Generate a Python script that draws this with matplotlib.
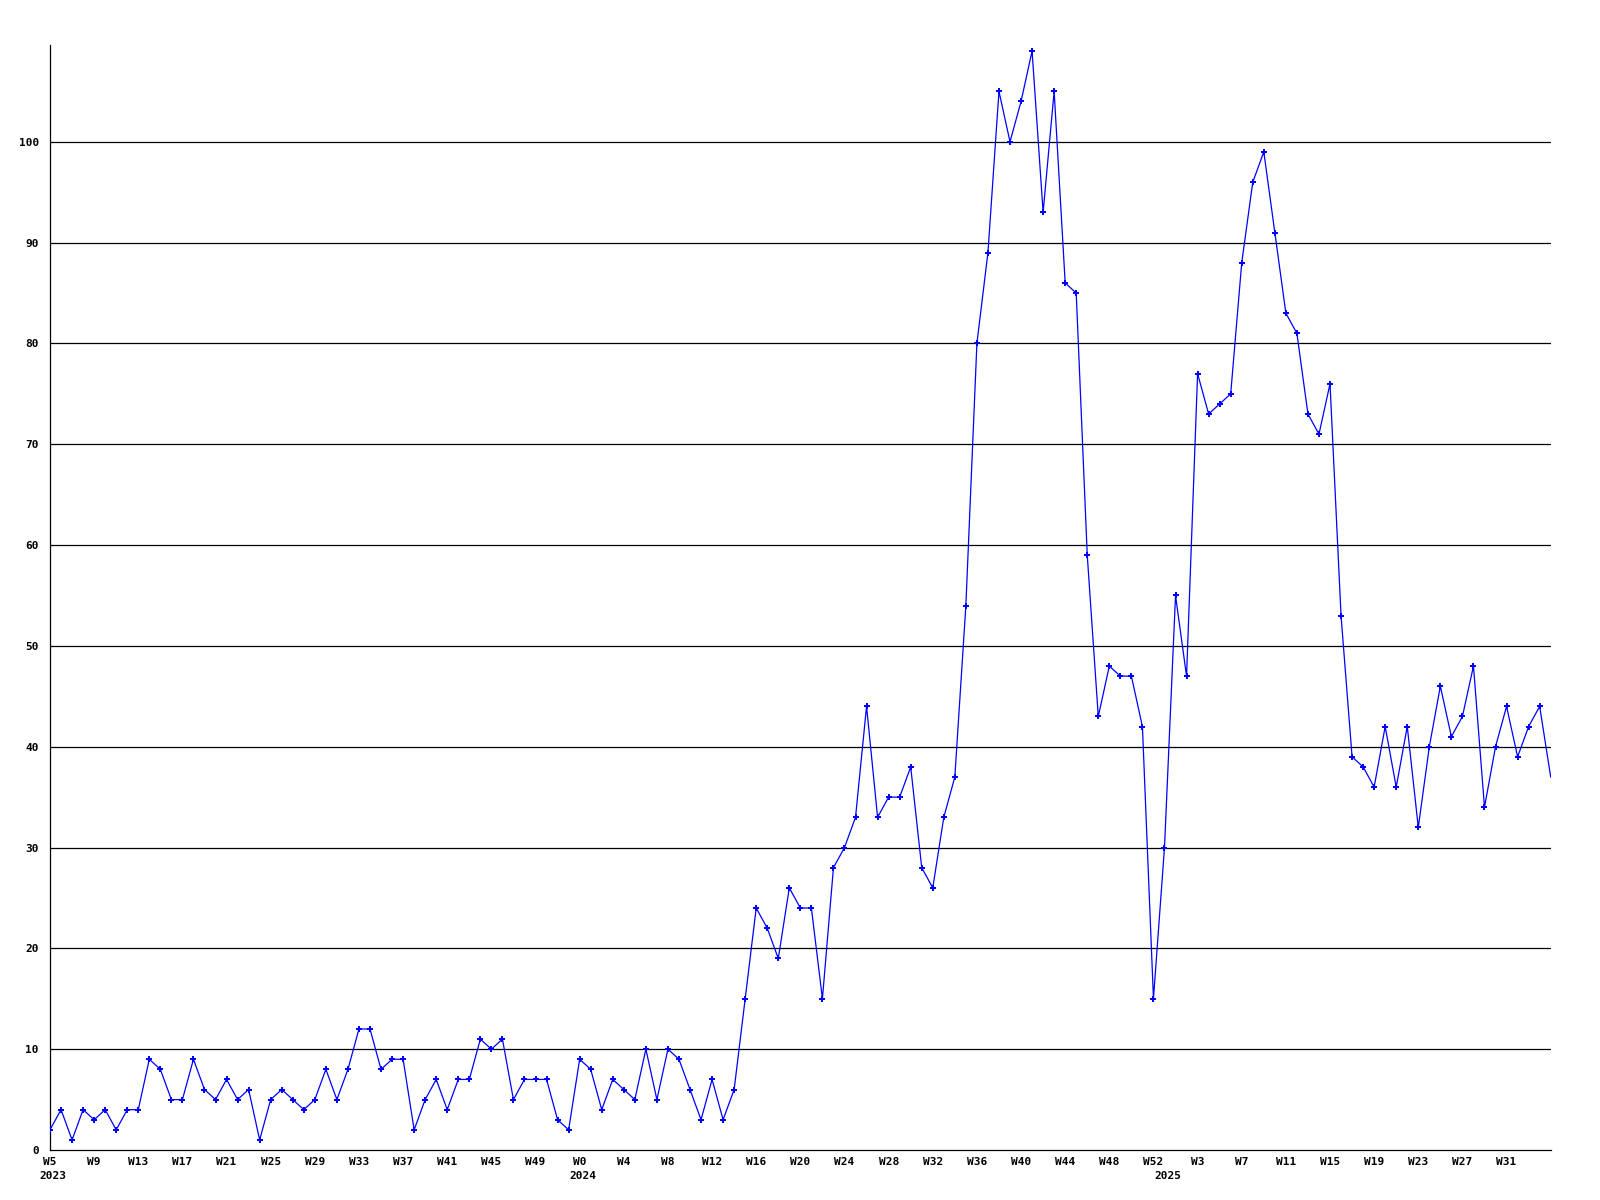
import numpy as np
import matplotlib
matplotlib.use('Agg')
import matplotlib.pyplot as plt

# weekly counts
counts_2023 = [2, 4, 1, 4, 3, 4, 2, 4, 4, 9, 8, 5, 5, 9, 6, 5, 7, 5, 6, 1, 5, 6, 5,
               4, 5, 8, 5, 8, 12, 12, 8, 9, 9, 2, 5, 7, 4, 7, 7, 11, 10, 11, 5, 7, 7, 7, 3, 2]
counts_2024 = [9, 8, 4, 7, 6, 5, 10, 5, 10, 9, 6, 3, 7, 3, 6,
               15, 24, 22, 19, 26, 24, 24, 15, 28, 30, 33, 44, 33, 35, 35, 38, 28, 26, 33, 37,
               54, 80, 89, 105, 100, 104, 109, 93, 105, 86, 85, 59,
               43, 48, 47, 47, 42, 15]
counts_2025 = [30, 55, 47,
               77, 73, 74, 75, 88, 96, 99, 91, 83, 81, 73, 71, 76, 53,
               39, 38, 36, 42, 36, 42, 32, 40, 46, 41, 43, 48, 34, 40, 44, 39, 42, 44, 37]

first_week = {2023: 5, 2024: 0, 2025: 0}
years = [2023, 2024, 2025]
series = [counts_2023, counts_2024, counts_2025]

weeks = []
year_start = []
values = []
for yr, cnt in zip(years, series):
    year_start.append(len(values))
    for i, v in enumerate(cnt):
        weeks.append(first_week[yr] + i)
        values.append(v)

x = np.arange(len(values))
tick_pos = x[:-1:4]  # every 4th week, last point gets no label
tick_lab = ['W%d' % weeks[i] for i in tick_pos]

mono = 'DejaVu Sans Mono'

fig = plt.figure(figsize=(16, 12), dpi=100)
ax = fig.add_axes([50 / 1600, 50 / 1200, 1500.7 / 1600, 1105 / 1200])

for yv in range(10, 101, 10):
    ax.axhline(yv, color='black', linewidth=0.9, zorder=1)

ax.plot(x, values, color='#0000ff', linewidth=0.9, marker='P', markersize=4.5,
        markeredgewidth=0, markevery=list(range(len(values) - 1)), zorder=3)

ax.set_xlim(0, len(values) - 1)
ax.set_ylim(0, 109.6)

ax.set_xticks(tick_pos)
ax.set_xticklabels(tick_lab, fontfamily=mono, fontweight='bold', fontsize=8)
ax.set_yticks(range(0, 101, 10))
ax.set_yticklabels([str(v) for v in range(0, 101, 10)], fontfamily=mono,
                   fontweight='bold', fontsize=8)
ax.tick_params(axis='x', length=0, pad=5)
ax.tick_params(axis='y', length=0, pad=8)

# year under the first week of each year
for yr, pos in zip(years, year_start):
    ax.text(pos + 0.3, -0.019, str(yr), transform=ax.get_xaxis_transform(),
            ha='center', va='top', fontfamily=mono, fontweight='bold', fontsize=8)

for s in ['top', 'right']:
    ax.spines[s].set_visible(False)
ax.spines['left'].set_linewidth(0.9)
ax.spines['bottom'].set_linewidth(0.9)

fig.savefig('out.png', dpi=100)
